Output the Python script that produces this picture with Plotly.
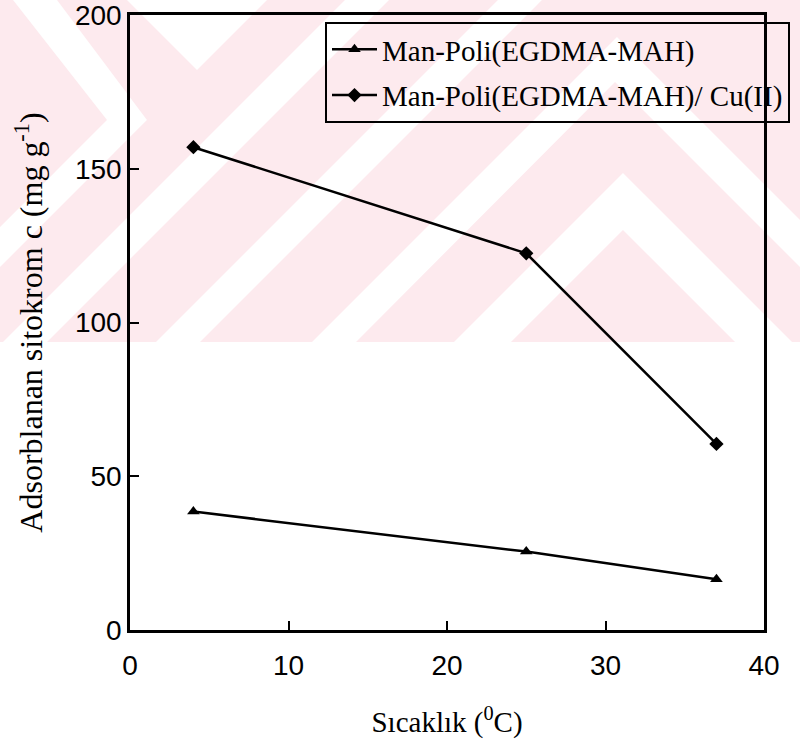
import plotly.graph_objects as go

# ---- data ----
temp = [4, 25, 37]
man_poli = [38.5, 25.5, 16.5]
man_poli_cu = [157, 122.5, 60.5]
name_a = "Man-Poli(EGDMA-MAH)"
name_b = "Man-Poli(EGDMA-MAH)/ Cu(II)"
x_ticks = [0, 10, 20, 30, 40]
y_ticks = [0, 50, 100, 150, 200]

W, H = 800, 744
L, R, T, B = 130, 36, 15, 114
PW, PH = W - L - R, H - T - B


def px2paper(pts):
    s = ""
    for i, (x, y) in enumerate(pts):
        xp = (x - L) / PW
        yp = (H - B - y) / PH
        s += ("M" if i == 0 else "L") + f"{xp:.4f},{yp:.4f} "
    return s + "Z"


# faint watermark in the background of the scanned page
pink = "#fdeaee"
shapes = [dict(type="path", xref="paper", yref="paper", layer="below",
               path=px2paper([(0, 0), (800, 0), (800, 342), (0, 342)]),
               fillcolor=pink, line=dict(width=0))]
white_polys = [
    [(13, 0), (57, 0), (147, 120), (0, 267), (0, 227), (107, 120)],
    [(127, 0), (267, 0), (197, 70)],
    [(345, 0), (389, 0), (47, 342), (3, 342)],
    [(498, 0), (542, 0), (200, 342), (156, 342)],
    [(617, 37), (800, 220), (800, 267), (615, 82), (356, 342), (312, 342)],
    [(623, 173), (792, 342), (735, 342), (623, 230), (511, 342), (454, 342)],
]
for p in white_polys:
    shapes.append(dict(type="path", xref="paper", yref="paper", layer="below",
                       path=px2paper(p), fillcolor="white", line=dict(width=0)))

fig = go.Figure()
fig.add_trace(go.Scatter(
    x=temp, y=man_poli, name=name_a, mode="lines+markers", legendgroup="a",
    line=dict(color="black", width=2.5),
    marker=dict(symbol="triangle-up", size=11, color="black")))
fig.add_trace(go.Scatter(
    x=temp, y=man_poli_cu, name=name_b, mode="lines+markers", legendgroup="b",
    line=dict(color="black", width=2.5),
    marker=dict(symbol="diamond", size=11, color="black")))

serif = "Liberation Serif, Times New Roman, serif"
axis_common = dict(showline=True, linecolor="black", linewidth=2.5, mirror=True,
                   ticks="inside", ticklen=9, tickwidth=2, tickcolor="black",
                   showgrid=False, zeroline=False, automargin=False,
                   ticklabeloverflow="allow",
                   tickfont=dict(family="Liberation Sans, Arial", size=28, color="black"))

fig.update_layout(
    width=W, height=H,
    margin=dict(l=L, r=R, t=T, b=B, autoexpand=False),
    paper_bgcolor="white", plot_bgcolor="rgba(0,0,0,0)",
    shapes=shapes,
    xaxis=dict(range=[0, 40], tickvals=x_ticks, ticklabelstandoff=9,
               title=dict(text="Sıcaklık (<sup>0</sup>C)", standoff=32,
                          font=dict(family=serif, size=29, color="black")),
               **axis_common),
    yaxis=dict(range=[0, 200], tickvals=y_ticks, ticklabelstandoff=0,
               title=dict(text="Adsorblanan sitokrom c (mg g<sup>-1</sup>)", standoff=23,
                          font=dict(family=serif, size=32, color="black")),
               **axis_common),
    legend=dict(x=(325 - L) / PW, y=(H - B - 22) / PH, xanchor="left", yanchor="top",
                bgcolor="rgba(0,0,0,0)", bordercolor="black", borderwidth=2,
                font=dict(family=serif, size=29, color="black"),
                tracegroupgap=5, itemwidth=45),
    showlegend=True,
)

fig.write_html("out.html")
